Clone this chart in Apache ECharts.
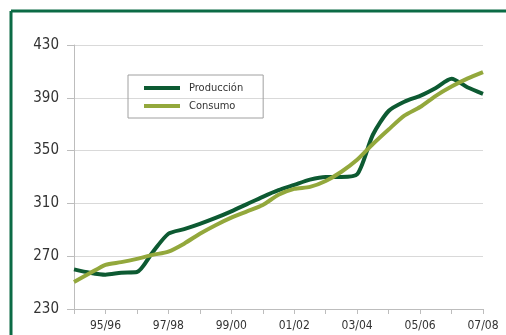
<!DOCTYPE html>
<html>
<head>
<meta charset="utf-8">
<script src="https://cdn.jsdelivr.net/npm/echarts@6/dist/echarts.min.js"></script>
<style>
  html, body { margin: 0; padding: 0; background: #fff; }
  #chart { width: 506px; height: 335px; }
</style>
</head>
<body>
<div id="chart"></div>
<script>
// half-year steps, one tick per season
const periods = [
  '94/95', '94/95 S2', '95/96', '95/96 S2', '96/97', '96/97 S2', '97/98', '97/98 S2',
  '98/99', '98/99 S2', '99/00', '99/00 S2', '00/01', '00/01 S2', '01/02', '01/02 S2',
  '02/03', '02/03 S2', '03/04', '03/04 S2', '04/05', '04/05 S2', '05/06', '05/06 S2',
  '06/07', '06/07 S2', '07/08'
]
const produccion = [
  260, 257.5, 256, 257.5, 258, 273, 287, 290.5, 294.5, 299, 304, 309.5, 315, 320,
  324, 328, 330, 330, 332, 362, 380, 387, 391.5, 397.5, 404.5, 398, 393
]
const consumo = [
  250.5, 257, 263.5, 265.5, 268, 271, 273.5, 279.5, 287, 293.5, 299.2, 304, 308.8, 316.5,
  321, 322.5, 327, 334, 343, 355, 366, 376.5, 383, 391.5, 398.5, 404.5, 409.5
]
const yTicks = { min: 230, max: 430, step: 40 }

const font = "'Liberation Sans Narrow', 'DejaVu Sans Condensed', sans-serif"
const chart = echarts.init(document.getElementById('chart'))
chart.setOption({
  animation: false,
  textStyle: { fontFamily: font },
  grid: { left: 74, right: 23, top: 45, bottom: 26 },
  graphic: [
    { type: 'line', shape: { x1: 11, y1: 11, x2: 506, y2: 11 }, style: { stroke: '#0b6b45', lineWidth: 3 } },
    { type: 'line', shape: { x1: 11, y1: 11, x2: 11, y2: 335 }, style: { stroke: '#0b6b45', lineWidth: 3 } }
  ],
  legend: {
    orient: 'vertical',
    left: 128,
    top: 75,
    padding: [6, 20, 5, 16],
    borderColor: '#a0a0a0',
    borderWidth: 1,
    itemWidth: 36,
    itemHeight: 4,
    itemGap: 4,
    icon: 'rect',
    textStyle: { fontFamily: font, fontSize: 11, color: '#333', lineHeight: 14, padding: [0, 0, 0, 4] },
    data: ['Producción', 'Consumo']
  },
  xAxis: {
    type: 'category',
    boundaryGap: false,
    data: periods,
    axisLine: { lineStyle: { color: '#bdbdbd' } },
    axisTick: { length: 5, interval: (i) => i % 2 === 0, lineStyle: { color: '#bdbdbd' } },
    axisLabel: {
      interval: (i) => i % 4 === 2,
      margin: 11,
      fontSize: 12,
      color: '#333',
      fontFamily: font
    },
    splitLine: { show: false }
  },
  yAxis: {
    type: 'value',
    min: yTicks.min,
    max: yTicks.max,
    interval: yTicks.step,
    axisLine: { show: true, lineStyle: { color: '#bdbdbd' } },
    axisTick: { show: true, length: 7, lineStyle: { color: '#bdbdbd' } },
    axisLabel: { margin: 15, fontSize: 15, color: '#333', fontFamily: font },
    splitLine: { lineStyle: { color: '#d9d9d9' } }
  },
  series: [
    {
      name: 'Producción',
      type: 'line',
      data: produccion,
      smooth: 0.25,
      showSymbol: false,
      color: '#0d5a32',
      lineStyle: { width: 4, color: '#0d5a32' }
    },
    {
      name: 'Consumo',
      type: 'line',
      data: consumo,
      smooth: 0.25,
      showSymbol: false,
      color: '#93a83c',
      lineStyle: { width: 4, color: '#93a83c' }
    }
  ]
})
</script>
</body>
</html>
